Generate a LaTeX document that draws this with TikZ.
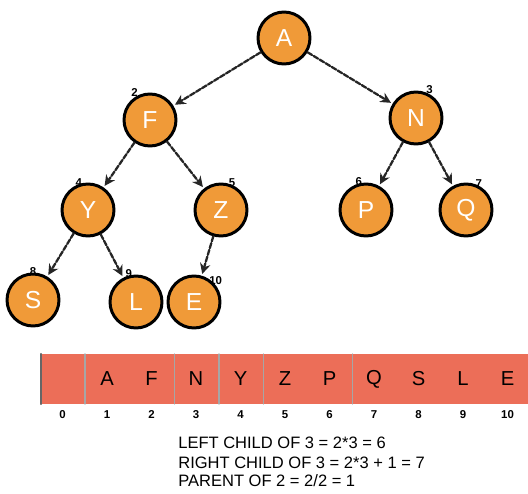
\documentclass[tikz,border=0pt]{standalone}
\usepackage{fontspec}
\setmainfont{Liberation Sans}
\usetikzlibrary{positioning,arrows.meta}
\definecolor{heaporange}{HTML}{F09A38}
\definecolor{cellred}{HTML}{EC6E58}
\tikzset{
  heapnode/.style={circle, draw=black, line width=1.7pt, fill=heaporange,
    minimum size=1.04cm, inner sep=0pt, text=white, font=\fontsize{14}{14}\selectfont},
  idx/.style={font=\fontsize{6.5}{6.5}\selectfont\bfseries, inner sep=1pt},
  edge/.style={draw=black!85, line width=1.3pt, dash pattern=on 3pt off 1pt,
    -{Stealth[length=6pt,width=6pt]}, shorten >=1pt},
  cellbox/.style={font=\fontsize{11.5}{11.5}\selectfont, inner sep=0pt},
  rule/.style={font=\fontsize{9.4}{10}\selectfont, anchor=west, inner sep=0pt}
}
\begin{document}
\begin{tikzpicture}[x=0.02cm, y=-0.02cm, line cap=round, line join=round]
\useasboundingbox (0,0) rectangle (528,494);

% Tree
\node[heapnode] (A) at (284,38) {A};
\node[heapnode, label={[idx,label distance=-2pt]115:2}] (F) at (150,120) {F};
\node[heapnode, label={[idx,label distance=-2pt]70:3}] (N) at (416,118) {N};
\node[heapnode, label={[idx,label distance=-3pt]100:4}] (Y) at (88,210) {Y};
\node[heapnode, label={[idx,label distance=-3pt]75:5}] (Z) at (221,210) {Z};
\node[heapnode, label={[idx,label distance=-3pt]95:6}] (P) at (366,210) {P};
\node[heapnode, label={[idx,label distance=-3pt]70:7}] (Q) at (466,210) {Q};
\node[heapnode, label={[idx,label distance=-3pt]90:8}] (S) at (33,300) {S};
\node[heapnode, label={[idx,label distance=-3pt]95:9}] (L) at (136,302) {L};
\node[heapnode, label={[idx,label distance=-4pt]50:10}] (E) at (194,302) {E};

\draw[edge] (A) -- (F);
\draw[edge] (A) -- (N);
\draw[edge] (F) -- (Y);
\draw[edge] (F) -- (Z);
\draw[edge] (N) -- (P);
\draw[edge] (N) -- (Q);
\draw[edge] (Y) -- (S);
\draw[edge] (Y) -- (L);
\draw[edge] (Z) -- (E);

% Array
\fill[cellred] (40,354) rectangle (528,404);
\draw[black!60, line width=1.2pt] (41,354) -- (41,404);
\foreach \bx in {85,174.5,219,263.5,352.5}
  \draw[black!35, line width=0.6pt] (\bx,354) -- (\bx,404);
\foreach \v [count=\i] in {A,F,N,Y,Z,P,Q,S,L,E}
  \node[cellbox] (c\i) at (62.5+44.5*\i,379) {\v};
\foreach \i in {0,...,10}
  \node[idx] (i\i) at (62.5+44.5*\i,415) {\i};

% Formulas
\node[rule] (t1) at (178,443) {LEFT CHILD OF 3 = 2*3 = 6};
\node[rule] (t2) at (178,463) {RIGHT CHILD OF 3 = 2*3 + 1 = 7};
\node[rule] (t3) at (178,481) {PARENT OF 2 = 2/2 = 1};
\end{tikzpicture}
\end{document}
